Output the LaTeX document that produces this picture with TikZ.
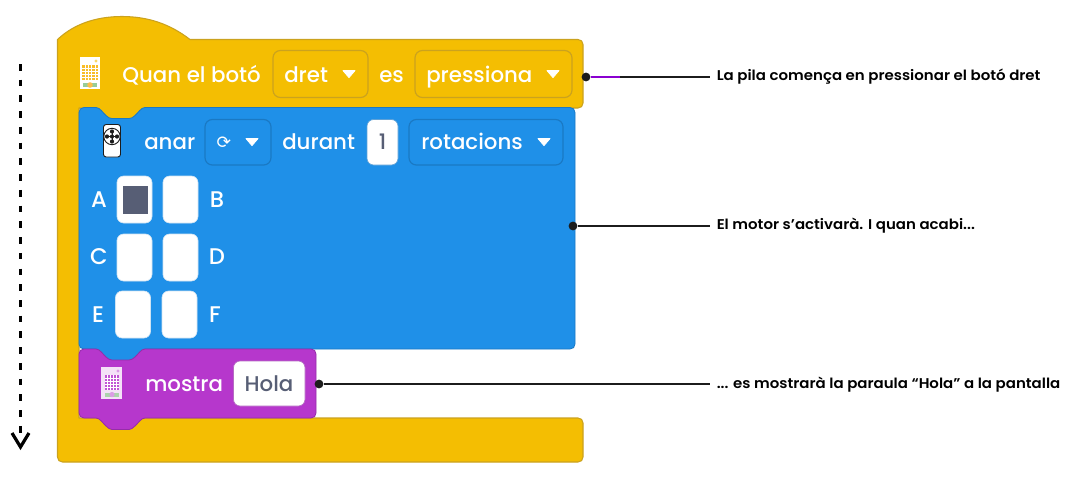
\documentclass[tikz,border=0pt]{standalone}
\usepackage{fontspec}
\setmainfont{Poppins Medium}
\newfontfamily\notefont[FakeStretch=1.06]{Poppins SemiBold}
\newfontfamily\symfont{DejaVu Sans}
\usetikzlibrary{arrows.meta}
\definecolor{yel}{HTML}{F4BE02}
\definecolor{yelb}{HTML}{CBA21E}
\definecolor{blu}{HTML}{1F90E8}
\definecolor{blub}{HTML}{1A79C4}
\definecolor{pur}{HTML}{B637CC}
\definecolor{purb}{HTML}{952DA8}
\definecolor{ink}{HTML}{1C1C1C}
\definecolor{inp}{HTML}{575E75}
\definecolor{wirepur}{HTML}{8A00D0}
\tikzset{
 x=0.75pt,y=-0.75pt,
 dd/.style={draw=#1,line width=0.9pt,rounded corners=5.5pt},
 whitebox/.style={fill=white,draw=#1!70!white,line width=0.5pt,rounded corners=5pt},
 lbl/.style={text=white,font=\fontsize{16pt}{18pt}\selectfont,inner sep=0pt,anchor=base west},
 inval/.style={text=inp,font=\fontsize{16pt}{18pt}\selectfont,inner sep=0pt,anchor=base},
 mlbl/.style={text=white,font=\fontsize{17pt}{18pt}\selectfont,inner sep=0pt,anchor=base},
 note/.style={text=black,font=\notefont\fontsize{10.6pt}{12pt}\selectfont,inner sep=0pt,anchor=base west},
 wire/.style={draw=ink,line width=1.5pt},
 dot/.style={circle,fill=ink,inner sep=0pt,minimum size=6.6pt},
 tri/.style={fill=white,draw=white,line width=0.6pt,line join=round},
}
\newcommand{\ddtri}[2]{\filldraw[tri] (#1-6,#2-3.4) -- (#1+6,#2-3.4) -- (#1,#2+3.6) -- cycle;}
\begin{document}
\begin{tikzpicture}
\useasboundingbox (0,0) rectangle (1065,494);
% C block
\filldraw[fill=yel,draw=yelb,line width=0.8pt,line join=round]
  (57.5,39.5) .. controls (76,22) and (100,16.5) .. (122,16.5)
  .. controls (148,16.5) and (170,24) .. (190,39.5)
  -- (578,39.5) .. controls (581,39.5) and (583,41.5) .. (583,44.5)
  -- (583,103) .. controls (583,106) and (581,108) .. (578,108)
  -- (145,108) -- (135,120) -- (106,120) -- (96,108) -- (79,108)
  -- (79,418) -- (578,418) .. controls (581,418) and (583,420) .. (583,423)
  -- (583,457) .. controls (583,460) and (581,462) .. (578,462)
  -- (62.5,462) .. controls (59.5,462) and (57.5,460) .. (57.5,457) -- cycle;
% blue block
\filldraw[fill=blu,draw=blub,line width=0.6pt,line join=round]
  (84,107.5) -- (96,107.5) .. controls (100,107.5) and (103,113) .. (106,115.5)
  .. controls (108,117.5) and (110,118.5) .. (112,118.5) -- (129,118.5)
  .. controls (131,118.5) and (133,117.5) .. (135,115.5)
  .. controls (138,113) and (141,107.5) .. (145,107.5)
  -- (570,107.5) .. controls (573,107.5) and (575,109.5) .. (575,112.5)
  -- (575,344) .. controls (575,347) and (573,349) .. (570,349)
  -- (145,349) -- (135,362) -- (106,362) -- (96,349)
  -- (84,349) .. controls (81,349) and (79,347) .. (79,344)
  -- (79,112.5) .. controls (79,109.5) and (81,107.5) .. (84,107.5) -- cycle;
% purple block
\filldraw[fill=pur,draw=purb,line width=0.6pt,line join=round]
  (84,349) -- (96,349) .. controls (100,349) and (103,354.5) .. (106,357)
  .. controls (108,359) and (110,360) .. (112,360) -- (129,360)
  .. controls (131,360) and (133,359) .. (135,357)
  .. controls (138,354.5) and (141,349) .. (145,349)
  -- (311,349) .. controls (314,349) and (316,351) .. (316,354)
  -- (316,413) .. controls (316,416) and (314,418) .. (311,418)
  -- (145,418) .. controls (141,418) and (138,423.5) .. (135,426)
  .. controls (133,428) and (131,429.5) .. (129,429.5) -- (112,429.5)
  .. controls (110,429.5) and (108,428) .. (106,426)
  .. controls (103,423.5) and (100,418) .. (96,418)
  -- (84,418) .. controls (81,418) and (79,416) .. (79,413)
  -- (79,354) .. controls (79,351) and (81,349) .. (84,349) -- cycle;
% hat-block content
\draw[dd=yelb] (273,50.5) rectangle (368,97.5);
\draw[dd=yelb] (415,50.5) rectangle (572,97.5);
\node[lbl] (t1) at (122,82) {Quan el botó};
\node[lbl] (t2) at (284,82) {dret};
\ddtri{349}{74}
\node[lbl] (t3) at (379,82) {es};
\node[lbl] (t4) at (426,82) {pressiona};
\ddtri{553}{74}
% brick icon
\fill[white] (80,57) rectangle (100,89);
\fill[yel!80!orange!85!white] (82,65) rectangle (98,80);
\foreach \i in {1,2,3,4}{\draw[white,line width=0.3pt] (82+3.2*\i,65) -- (82+3.2*\i,80);\draw[white,line width=0.3pt] (82,65+3*\i) -- (98,65+3*\i);}
\fill[yel!60!white] (96,61) circle (1.7);
\fill[green!35!gray!60!white] (83,83) rectangle (97,87);
\fill[yel!55!orange!70!white] (90,85) circle (2.8);
% blue content
\draw[dd=blub] (205,119.5) rectangle (271,165);
\draw[dd=blub] (409,119.5) rectangle (563,165);
\node[lbl] (t5) at (144,149) {anar};
\node[text=white,font=\symfont\fontsize{13pt}{14pt}\selectfont,inner sep=0pt] (rot) at (224,143) {⟳};
\ddtri{252}{142}
\node[lbl] (t6) at (282,149) {durant};
\draw[whitebox=blub] (367,119.5) rectangle (398,165);
\node[inval] (t7) at (382.5,149) {1};
\node[lbl] (t8) at (421,149) {rotacions};
\ddtri{544}{142}
% motor icon
\filldraw[fill=white,draw=ink,line width=0.7pt,rounded corners=2pt] (103.5,124.5) rectangle (120.5,157);
\draw[ink,line width=0.7pt,fill=white] (112,136.5) circle (8.2);
\draw[ink,line width=0.5pt] (106,136.5) -- (118,136.5) (112,130.5) -- (112,142.5);
\foreach \a/\b in {0/0,5/0,-5/0,0/5,0/-5}{\fill[ink] (112+\a,136.5+\b) circle (2.1);}
% matrix
\foreach \xa/\ya/\nm in {117/176/A,163/176/B,117/234/C,163/234/D,115.5/291/E,162/291/F}{
  \draw[whitebox=blub!30!white] (\xa,\ya) rectangle (\xa+35,\ya+47);
}
\fill[inp] (122.7,186) rectangle (147.5,214);
\node[mlbl] (ma) at (99,207) {A};
\node[mlbl] (mb) at (217,207) {B};
\node[mlbl] (mc) at (99,264) {C};
\node[mlbl] (md) at (217,264) {D};
\node[mlbl] (me) at (98,322) {E};
\node[mlbl] (mf) at (215,322) {F};
% purple content
\fill[white!85!pur] (101,367) rectangle (122,399);
\fill[pur!85!white] (104.5,375) rectangle (119,390);
\foreach \i in {1,2,3,4}{\draw[white,line width=0.3pt] (104.5+2.9*\i,375) -- (104.5+2.9*\i,390);\draw[white,line width=0.3pt] (104.5,375+3*\i) -- (119,375+3*\i);}
\fill[pur!50!white] (118,371) circle (1.7);
\fill[green!30!gray!50!white] (105,393) rectangle (119,397);
\fill[pur!50!white] (112,394.5) circle (2.6);
\node[lbl] (t9) at (145,391) {mostra};
\draw[whitebox=purb] (233.5,361) rectangle (305,406);
\node[inval] (t10) at (269,391) {Hola};
% notes and wires
\node[note] (n1) at (716.5,80.5) {La pila comença en pressionar el botó dret};
\node[note] (n2) at (716.5,229.5) {El motor s’activarà. I quan acabi...};
\node[note] (n3) at (716.5,388) {... es mostrarà la paraula “Hola” a la pantalla};
\coordinate (e1) at (710,77);
\coordinate (e2) at (710,226);
\coordinate (e3) at (710,384);
\coordinate (p1) at (620,77);
\node[dot] (d1) at (586,77) {};
\node[dot] (d2) at (573,226) {};
\node[dot] (d3) at (319,384) {};
\draw[wire] (d1) -- (e1);
\draw[wire] (d2) -- (e2);
\draw[wire] (d3) -- (e3);
\draw[draw=wirepur,line width=0.8pt] (d1) -- (p1);
% flow arrow
\coordinate (a1) at (20.5,64);
\coordinate (a2) at (20.5,447);
\coordinate (a3) at (20.5,436);
\draw[black,line width=2pt,dash pattern=on 5pt off 6.8pt] (a1) -- (a3);
\draw[black,line width=2.4pt] (12,433) -- (a2) -- (29,433);
\end{tikzpicture}
\end{document}
